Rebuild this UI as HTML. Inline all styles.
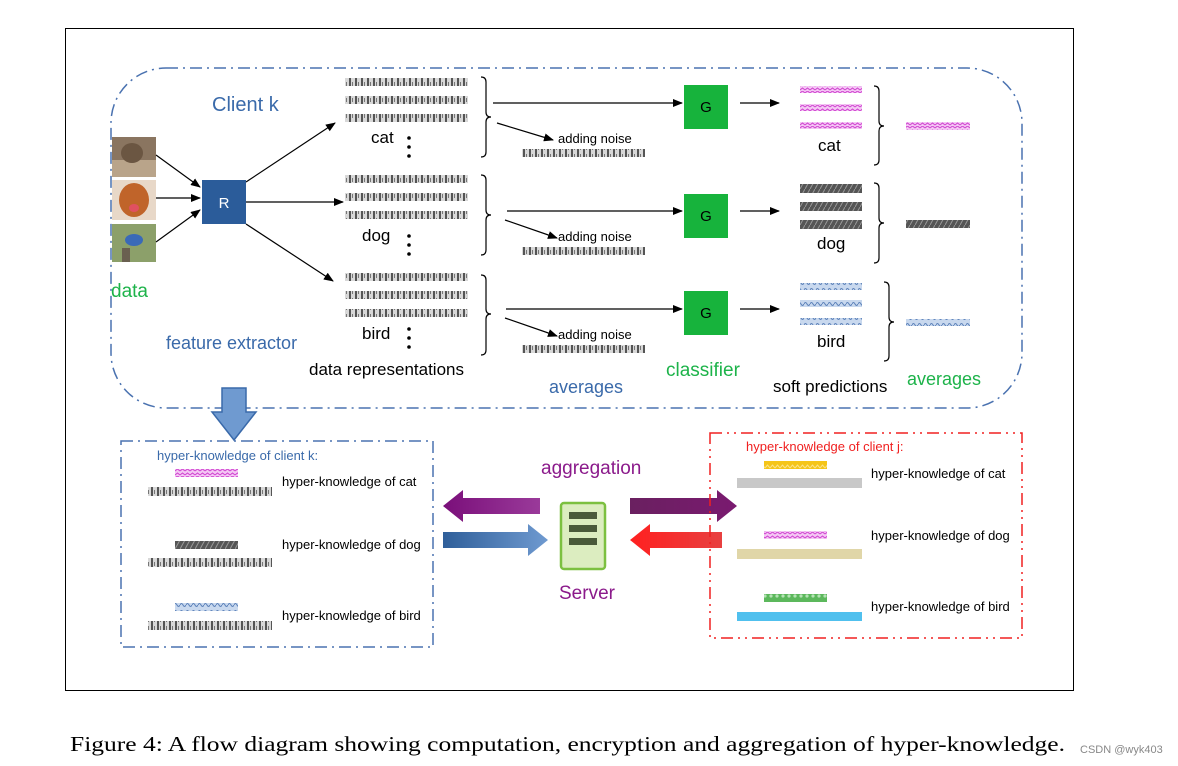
<!DOCTYPE html>
<html><head><meta charset="utf-8"><style>
html,body{margin:0;padding:0;background:#fff;}
svg{display:block;font-family:"Liberation Sans",sans-serif;}
</style></head><body>
<svg width="1178" height="766" viewBox="0 0 1178 766" xmlns="http://www.w3.org/2000/svg">
<defs>
<pattern id="pg" width="6" height="8" patternUnits="userSpaceOnUse"><rect width="6" height="8" fill="#d8d8d8"/><rect x="1" width="2" height="8" fill="#555"/><rect x="4" y="2" width="1" height="4" fill="#777"/></pattern>
<pattern id="pp" width="5" height="7" patternUnits="userSpaceOnUse"><rect width="5" height="7" fill="#f4c8f4"/><path d="M0 2 L2.5 0 L5 2 M0 6 L2.5 4 L5 6" stroke="#d040d0" fill="none"/></pattern>
<pattern id="pd" width="5" height="9" patternUnits="userSpaceOnUse"><rect width="5" height="9" fill="#555"/><path d="M0 9 L5 0" stroke="#999"/></pattern>
<pattern id="pb" width="6" height="7" patternUnits="userSpaceOnUse"><rect width="6" height="7" fill="#c8d8ee"/><path d="M0 3 Q1.5 0 3 3 T6 3" stroke="#5a80b8" fill="none"/></pattern>
<pattern id="py" width="5" height="8" patternUnits="userSpaceOnUse"><rect width="5" height="8" fill="#f5c518"/><path d="M0 4 L2.5 1 L5 4" stroke="#fbe38a" fill="none"/></pattern>
<pattern id="pgr" width="6" height="8" patternUnits="userSpaceOnUse"><rect width="6" height="8" fill="#5cb85c"/><circle cx="3" cy="4" r="1.6" fill="#b5e3b5"/></pattern>
<marker id="ah" markerWidth="10" markerHeight="8" refX="9" refY="4" orient="auto" markerUnits="userSpaceOnUse"><path d="M0 0 L10 4 L0 8 Z" fill="#000"/></marker>
<linearGradient id="gpur" x1="0" x2="1"><stop offset="0" stop-color="#7a0f7a"/><stop offset="1" stop-color="#9a3a9a"/></linearGradient>
<linearGradient id="gpur2" x1="0" x2="1"><stop offset="0" stop-color="#6a2060"/><stop offset="1" stop-color="#7a1a70"/></linearGradient>
<linearGradient id="gblu" x1="0" x2="1"><stop offset="0" stop-color="#2f5f9a"/><stop offset="1" stop-color="#6f9ad0"/></linearGradient>
<linearGradient id="gred" x1="0" x2="1"><stop offset="0" stop-color="#ff2020"/><stop offset="1" stop-color="#e84040"/></linearGradient>
</defs>

<rect x="65.5" y="28.5" width="1008" height="662" fill="none" stroke="#000" stroke-width="1"/>
<rect x="111" y="68" width="911" height="340" rx="55" fill="none" stroke="#4a72b0" stroke-width="1.5" stroke-dasharray="12 5 2 5"/>

<!-- images -->
<rect x="112" y="137" width="44" height="40" fill="#8a7560"/><rect x="112" y="160" width="44" height="17" fill="#b9a48a"/><ellipse cx="132" cy="153" rx="11" ry="10" fill="#6b5642"/>
<rect x="112" y="180" width="44" height="40" fill="#e8d8c8"/><ellipse cx="134" cy="200" rx="15" ry="17" fill="#c0642a"/><ellipse cx="134" cy="208" rx="5" ry="4" fill="#e05060"/>
<rect x="112" y="224" width="44" height="38" fill="#8ca06a"/><ellipse cx="134" cy="240" rx="9" ry="6" fill="#3a6ab8"/><rect x="122" y="248" width="8" height="14" fill="#6a6050"/>

<!-- arrows to R -->
<g stroke="#000" stroke-width="1.2" marker-end="url(#ah)">
<line x1="156" y1="155" x2="200" y2="187"/>
<line x1="156" y1="198" x2="200" y2="198"/>
<line x1="156" y1="242" x2="200" y2="210"/>
<line x1="246" y1="182" x2="335" y2="123"/>
<line x1="246" y1="202" x2="343" y2="202"/>
<line x1="246" y1="224" x2="333" y2="281"/>
</g>
<rect x="202" y="180" width="44" height="44" fill="#2b5c9a"/>
<text x="224" y="208" font-size="15" fill="#fff" text-anchor="middle">R</text>

<!-- data reps -->
<g fill="url(#pg)">
<rect x="345" y="78" width="123" height="8"/><rect x="345" y="96" width="123" height="8"/><rect x="345" y="114" width="123" height="8"/>
<rect x="345" y="175" width="123" height="8"/><rect x="345" y="193" width="123" height="8"/><rect x="345" y="211" width="123" height="8"/>
<rect x="345" y="273" width="123" height="8"/><rect x="345" y="291" width="123" height="8"/><rect x="345" y="309" width="123" height="8"/>
<rect x="522" y="149" width="123" height="8"/><rect x="522" y="247" width="123" height="8"/><rect x="522" y="345" width="123" height="8"/>
</g>
<g font-size="17" fill="#000">
<text x="371" y="143">cat</text><text x="362" y="241">dog</text><text x="362" y="339">bird</text>
</g>
<g fill="#000">
<circle cx="409" cy="138" r="1.8"/><circle cx="409" cy="147" r="1.8"/><circle cx="409" cy="156" r="1.8"/>
<circle cx="409" cy="236" r="1.8"/><circle cx="409" cy="245" r="1.8"/><circle cx="409" cy="254" r="1.8"/>
<circle cx="409" cy="329" r="1.8"/><circle cx="409" cy="338" r="1.8"/><circle cx="409" cy="347" r="1.8"/>
</g>
<!-- braces -->
<g fill="none" stroke="#000" stroke-width="1.2">
<path d="M481 77 Q486 77 486 82 L486 112 Q486 117 491 117 Q486 117 486 122 L486 152 Q486 157 481 157"/>
<path d="M481 175 Q486 175 486 180 L486 210 Q486 215 491 215 Q486 215 486 220 L486 250 Q486 255 481 255"/>
<path d="M481 275 Q486 275 486 280 L486 309 Q486 314 491 314 Q486 314 486 319 L486 350 Q486 355 481 355"/>
<path d="M874 86 Q879 86 879 91 L879 121 Q879 126 884 126 Q879 126 879 131 L879 160 Q879 165 874 165"/>
<path d="M874 183 Q879 183 879 188 L879 218 Q879 223 884 223 Q879 223 879 228 L879 258 Q879 263 874 263"/>
<path d="M884 282 Q889 282 889 287 L889 317 Q889 322 894 322 Q889 322 889 327 L889 356 Q889 361 884 361"/>
</g>
<g stroke="#000" stroke-width="1.2" marker-end="url(#ah)">
<line x1="493" y1="103" x2="682" y2="103"/>
<line x1="507" y1="211" x2="682" y2="211"/>
<line x1="506" y1="309" x2="682" y2="309"/>
<line x1="497" y1="123" x2="553" y2="140"/>
<line x1="505" y1="220" x2="557" y2="238"/>
<line x1="505" y1="318" x2="557" y2="336"/>
<line x1="740" y1="103" x2="779" y2="103"/>
<line x1="740" y1="211" x2="779" y2="211"/>
<line x1="740" y1="309" x2="779" y2="309"/>
</g>
<g font-size="13" fill="#000"><text x="558" y="143">adding noise</text><text x="558" y="241">adding noise</text><text x="558" y="339">adding noise</text></g>
<g fill="#17b33c"><rect x="684" y="85" width="44" height="44"/><rect x="684" y="194" width="44" height="44"/><rect x="684" y="291" width="44" height="44"/></g>
<g font-size="15" fill="#000" text-anchor="middle"><text x="706" y="112">G</text><text x="706" y="221">G</text><text x="706" y="318">G</text></g>

<!-- soft predictions -->
<rect x="800" y="86" width="62" height="7" fill="url(#pp)"/><rect x="800" y="104" width="62" height="7" fill="url(#pp)"/><rect x="800" y="122" width="62" height="7" fill="url(#pp)"/>
<rect x="800" y="184" width="62" height="9" fill="url(#pd)"/><rect x="800" y="202" width="62" height="9" fill="url(#pd)"/><rect x="800" y="220" width="62" height="9" fill="url(#pd)"/>
<rect x="800" y="283" width="62" height="7" fill="url(#pb)"/><rect x="800" y="300" width="62" height="7" fill="url(#pb)"/><rect x="800" y="318" width="62" height="7" fill="url(#pb)"/>
<g font-size="17" fill="#000"><text x="818" y="151">cat</text><text x="817" y="249">dog</text><text x="817" y="347">bird</text></g>
<rect x="906" y="122" width="64" height="8" fill="url(#pp)"/>
<rect x="906" y="220" width="64" height="8" fill="url(#pd)"/>
<rect x="906" y="319" width="64" height="7" fill="url(#pb)"/>

<g font-size="20" fill="#3a6aaa"><text x="212" y="111">Client k</text></g>
<text x="111" y="297" font-size="19" fill="#1db34a">data</text>
<text x="166" y="349" font-size="18" fill="#3a6aaa">feature extractor</text>
<text x="309" y="375" font-size="17" fill="#000">data representations</text>
<text x="549" y="393" font-size="18" fill="#3a6aaa">averages</text>
<text x="666" y="376" font-size="19" fill="#1db34a">classifier</text>
<text x="773" y="392" font-size="17" fill="#000">soft predictions</text>
<text x="907" y="385" font-size="18" fill="#1db34a">averages</text>

<!-- down arrow -->
<path d="M222 388 L246 388 L246 412 L256 412 L234 440 L212 412 L222 412 Z" fill="#6f9ad0" stroke="#3a6aaa" stroke-width="1.5"/>

<!-- left box -->
<rect x="121" y="441" width="312" height="206" fill="none" stroke="#4a72b0" stroke-width="1.5" stroke-dasharray="12 5 2 5"/>
<text x="157" y="460" font-size="13" fill="#3a6aaa">hyper-knowledge of client k:</text>
<rect x="175" y="469" width="63" height="8" fill="url(#pp)"/><rect x="148" y="487" width="124" height="9" fill="url(#pg)"/>
<rect x="175" y="541" width="63" height="8" fill="url(#pd)"/><rect x="148" y="558" width="124" height="9" fill="url(#pg)"/>
<rect x="175" y="603" width="63" height="8" fill="url(#pb)"/><rect x="148" y="621" width="124" height="9" fill="url(#pg)"/>
<g font-size="13" fill="#000"><text x="282" y="486">hyper-knowledge of cat</text><text x="282" y="549">hyper-knowledge of dog</text><text x="282" y="620">hyper-knowledge of bird</text></g>

<!-- center -->
<text x="541" y="474" font-size="19" fill="#8b1a8b">aggregation</text>
<path d="M443 506 L463 490 L463 498 L540 498 L540 514 L463 514 L463 522 Z" fill="url(#gpur)"/>
<path d="M548 540 L528 524 L528 532 L443 532 L443 548 L528 548 L528 556 Z" fill="url(#gblu)"/>
<path d="M737 506 L717 490 L717 498 L630 498 L630 514 L717 514 L717 522 Z" fill="url(#gpur2)"/>
<path d="M630 540 L650 524 L650 532 L722 532 L722 548 L650 548 L650 556 Z" fill="url(#gred)"/>
<rect x="561" y="503" width="44" height="66" rx="3" fill="#dcedc0" stroke="#7cc040" stroke-width="2.5"/>
<g fill="#4a5a3a"><rect x="569" y="512" width="28" height="7"/><rect x="569" y="525" width="28" height="7"/><rect x="569" y="538" width="28" height="7"/></g>
<text x="559" y="599" font-size="19" fill="#8b1a8b">Server</text>

<!-- right box -->
<rect x="710" y="433" width="312" height="205" fill="none" stroke="#f02020" stroke-width="1.5" stroke-dasharray="12 5 2 5 2 5"/>
<text x="746" y="451" font-size="13" fill="#f02020">hyper-knowledge of client j:</text>
<rect x="764" y="461" width="63" height="8" fill="url(#py)"/><rect x="737" y="478" width="125" height="10" fill="#c8c8c8"/>
<rect x="764" y="531" width="63" height="8" fill="url(#pp)"/><rect x="737" y="549" width="125" height="10" fill="#e0d6a8"/>
<rect x="764" y="594" width="63" height="8" fill="url(#pgr)"/><rect x="737" y="612" width="125" height="9" fill="#50c0ee"/>
<g font-size="13" fill="#000"><text x="871" y="478">hyper-knowledge of cat</text><text x="871" y="540">hyper-knowledge of dog</text><text x="871" y="611">hyper-knowledge of bird</text></g>

<text x="70" y="751" font-family="Liberation Serif, serif" font-size="21" fill="#000" textLength="995" lengthAdjust="spacingAndGlyphs">Figure 4: A flow diagram showing computation, encryption and aggregation of hyper-knowledge.</text>
<text x="1080" y="753" font-size="11" fill="#888">CSDN @wyk403</text>
</svg>
</body></html>
